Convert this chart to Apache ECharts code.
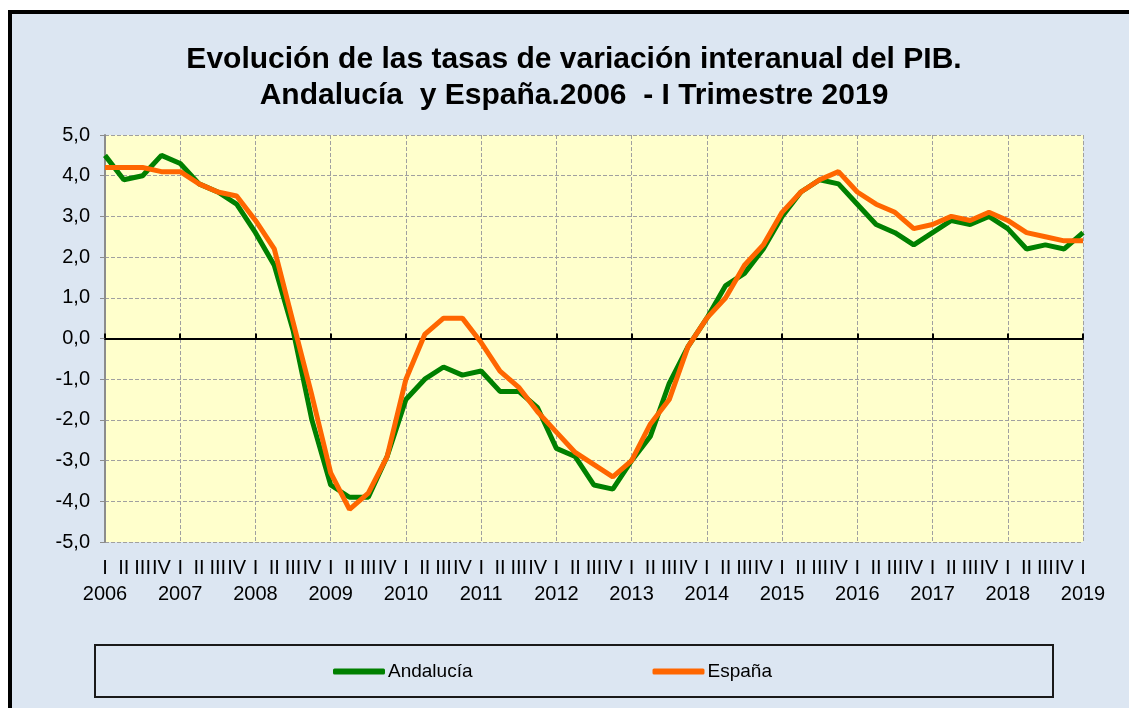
<!DOCTYPE html>
<html>
<head>
<meta charset="utf-8">
<title>PIB Andalucía y España</title>
<script src="https://cdn.jsdelivr.net/npm/echarts@6.0.0/dist/echarts.min.js"></script>
<style>
  html, body { margin: 0; padding: 0; background: #fff; }
  #chart { width: 1129px; height: 708px; }
</style>
</head>
<body>
<div id="chart"></div>
<script>
// trimestres y años del eje
var quarterLabels = ['I', 'II', 'III', 'IV'];
var yearLabels = ['2006', '2007', '2008', '2009', '2010', '2011', '2012',
  '2013', '2014', '2015', '2016', '2017', '2018', '2019'];

// tasas de variación interanual (%), 2006 I - 2019 I
var andalucia = [4.5, 3.9, 4.0, 4.5, 4.3, 3.8, 3.6, 3.3, 2.6, 1.8, 0.2, -2.0,
  -3.6, -3.9, -3.9, -2.9, -1.5, -1.0, -0.7, -0.9, -0.8, -1.3, -1.3, -1.7,
  -2.7, -2.9, -3.6, -3.7, -3.0, -2.4, -1.1, -0.2, 0.5, 1.3, 1.6, 2.2,
  3.0, 3.6, 3.9, 3.8, 3.3, 2.8, 2.6, 2.3, 2.6, 2.9, 2.8, 3.0,
  2.7, 2.2, 2.3, 2.2, 2.6];
var espana = [4.2, 4.2, 4.2, 4.1, 4.1, 3.8, 3.6, 3.5, 2.9, 2.2, 0.4, -1.4,
  -3.3, -4.2, -3.8, -2.9, -1.0, 0.1, 0.5, 0.5, -0.1, -0.8, -1.2, -1.8,
  -2.3, -2.8, -3.1, -3.4, -3.0, -2.1, -1.5, -0.2, 0.5, 1.0, 1.8, 2.3,
  3.1, 3.6, 3.9, 4.1, 3.6, 3.3, 3.1, 2.7, 2.8, 3.0, 2.9, 3.1,
  2.9, 2.6, 2.5, 2.4, 2.4];

// categorías: "I\n2006", "II", "III", "IV", ...
var categories = [];
for (var i = 0; i < andalucia.length; i++) {
  var q = quarterLabels[i % 4];
  categories.push(i % 4 === 0 ? q + '\n' + yearLabels[i / 4] : q);
}

var font = 'Liberation Sans, Arial, sans-serif';
var chart = echarts.init(document.getElementById('chart'));

var option = {
  backgroundColor: '#ffffff',
  animation: false,
  title: {
    text: 'Evolución de las tasas de variación interanual del PIB.\nAndalucía  y España.2006  - I Trimestre 2019',
    left: 574,
    top: 42,
    textAlign: 'center',
    padding: 0,
    textStyle: {
      fontFamily: font,
      fontSize: 30,
      fontWeight: 'bold',
      lineHeight: 36,
      color: '#000'
    }
  },
  legend: {
    left: 328,
    top: 657,
    itemGap: 180,
    itemWidth: 52,
    itemHeight: 6,
    icon: 'roundRect',
    textStyle: { fontFamily: font, fontSize: 19, color: '#000', padding: [0, 0, 0, -2] },
    data: ['Andalucía', 'España']
  },
  grid: {
    left: 105,
    right: 46,
    top: 135,
    bottom: 166,
    show: true,
    backgroundColor: '#ffffcc',
    borderWidth: 0
  },
  graphic: [
    {
      type: 'rect',
      z: -100,
      shape: { x: 10, y: 12, width: 1140, height: 720 },
      style: { fill: '#dce6f2', stroke: '#000', lineWidth: 4 }
    },
    {
      type: 'rect',
      shape: { x: 95, y: 645, width: 958, height: 52 },
      style: { fill: 'transparent', stroke: '#1a1a1a', lineWidth: 2 }
    }
  ],
  xAxis: [
    {
      type: 'category',
      data: categories,
      boundaryGap: false,
      axisLine: { show: false, onZero: false },
      axisTick: { show: false },
      axisLabel: {
        interval: 0,
        margin: 13,
        fontFamily: font,
        fontSize: 20,
        lineHeight: 26,
        color: '#000'
      },
      splitLine: {
        show: true,
        interval: function (idx) { return idx % 4 === 0; },
        lineStyle: { color: '#a0a0a0', type: [4, 2], width: 1 }
      }
    },
    {
      type: 'category',
      data: categories,
      position: 'bottom',
      boundaryGap: false,
      axisLine: { show: true, onZero: true, onZeroAxisIndex: 0, lineStyle: { color: '#000', width: 2 } },
      axisTick: {
        show: true,
        inside: true,
        length: 5,
        interval: function (idx) { return idx % 4 === 0; },
        lineStyle: { color: '#000', width: 2 }
      },
      axisLabel: { show: false },
      splitLine: { show: false }
    }
  ],
  yAxis: {
    type: 'value',
    min: -5,
    max: 5,
    interval: 1,
    axisLine: { show: true, lineStyle: { color: '#8c8c8c', width: 2 } },
    axisTick: { show: true, length: 5, lineStyle: { color: '#8c8c8c', width: 1 } },
    axisLabel: {
      margin: 15,
      fontFamily: font,
      fontSize: 20,
      color: '#000',
      formatter: function (v) { return v.toFixed(1).replace('.', ','); }
    },
    splitLine: {
      show: true,
      lineStyle: { color: '#a0a0a0', type: [4, 2], width: 1 }
    }
  },
  series: [
    {
      name: 'Andalucía',
      type: 'line',
      data: andalucia,
      symbol: 'none',
      color: '#008000',
      lineStyle: { color: '#008000', width: 5 }
    },
    {
      name: 'España',
      type: 'line',
      data: espana,
      symbol: 'none',
      color: '#ff6600',
      lineStyle: { color: '#ff6600', width: 5 }
    }
  ]
};

chart.setOption(option);
</script>
</body>
</html>
